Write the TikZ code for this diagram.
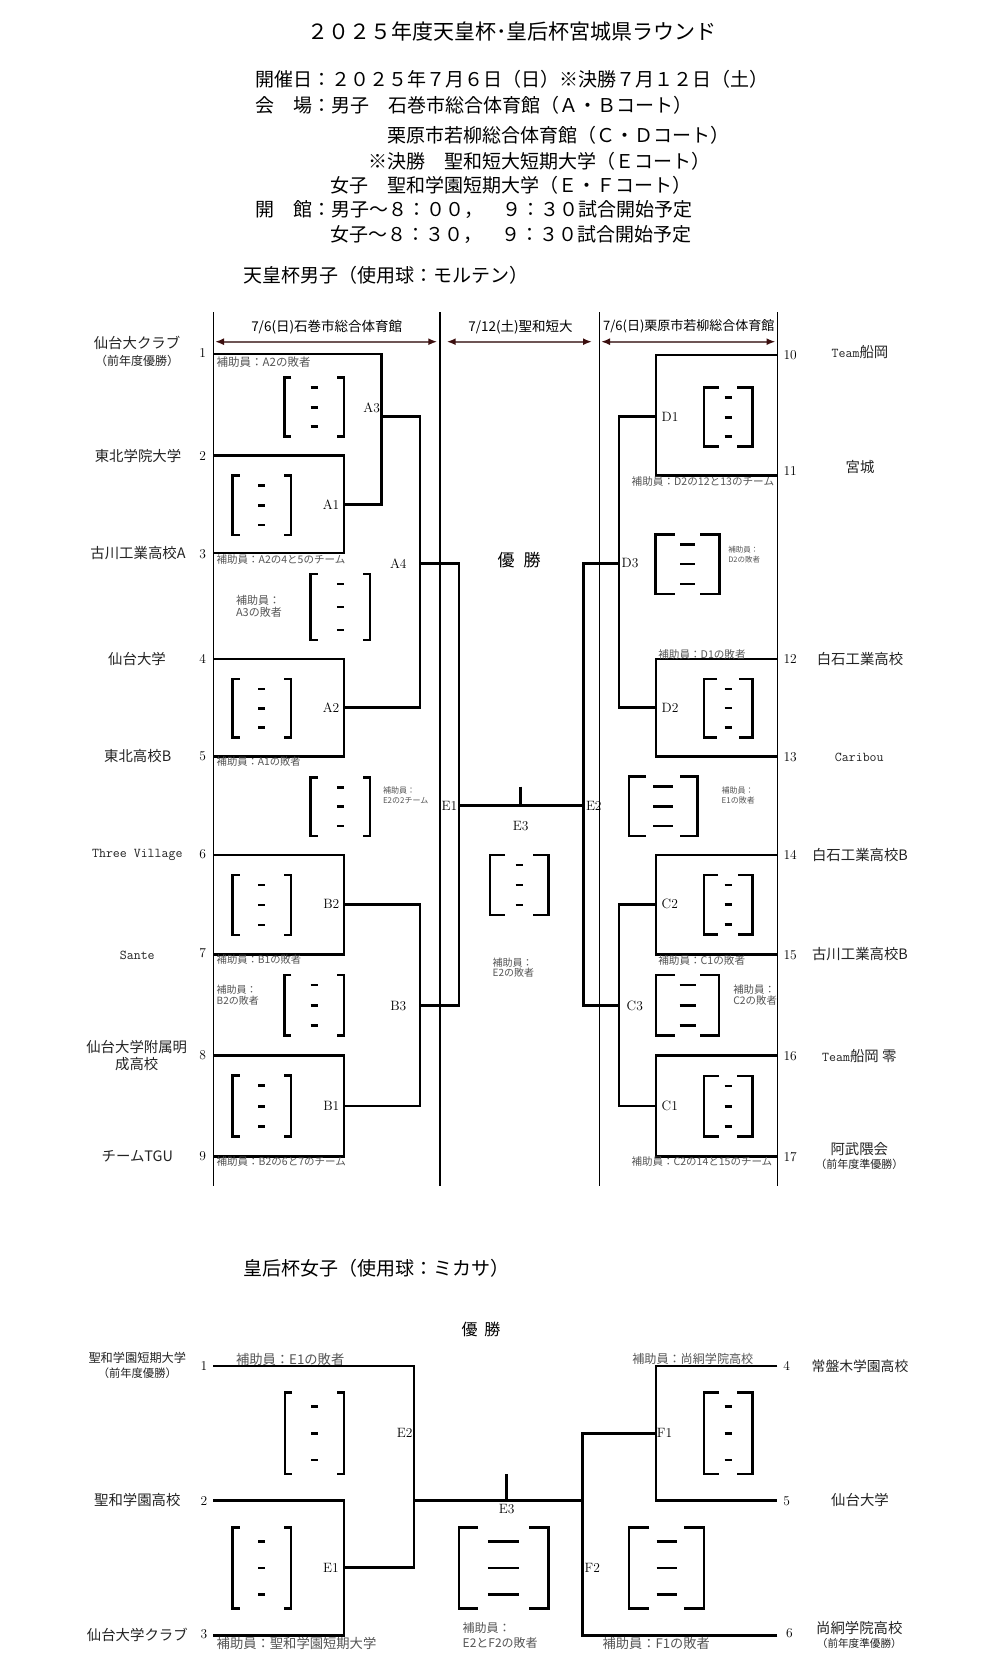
\documentclass[tikz,border=0pt]{standalone}
\usepackage{fontspec}
\newfontfamily\jp{Noto Sans CJK JP}
\usetikzlibrary{arrows.meta}
\definecolor{anncol}{RGB}{85,85,85}
\definecolor{teamcol}{RGB}{35,35,35}
\definecolor{arrS}{RGB}{110,85,85}
\definecolor{arrH}{RGB}{60,15,15}
\newcommand\fsz[2]{\fontsize{#1}{#2}\selectfont}
\tikzset{
  txt/.style={inner sep=0pt, outer sep=0pt},
  hdr/.style={txt, anchor=west, font=\jp\fsz{19}{22}},
  tnm/.style={txt, text=teamcol, font=\jp\fsz{14.4}{16}},
  tsub/.style={txt, text=teamcol, font=\jp\fsz{12}{14}},
  nlab/.style={txt, font=\fsz{13.5}{15}},
  mlab/.style={txt, font=\fsz{13.5}{15}},
  anno/.style={txt, anchor=west, text=anncol, align=left},
  bkl/.style={line width=2.6pt, line join=miter},
  thinl/.style={line width=1.1pt},
  dimarr/.style={line width=2pt, draw=arrS, {Latex[length=9pt,width=7pt,color=arrH]}-{Latex[length=9pt,width=7pt,color=arrH]}}
}
% left right top bottom arm dash-half-width dash-offset
\newcommand\scoreb[7]{%
  \draw[bkl] ({#1+#5},#3) -- (#1,#3) -- (#1,#4) -- ({#1+#5},#4);
  \draw[bkl] ({#2-#5},#3) -- (#2,#3) -- (#2,#4) -- ({#2-#5},#4);
  \foreach \yy in {{#3+#7},{(#3+#4)/2},{#4-#7}}
    \draw[bkl] ({(#1+#2)/2-#6},{\yy}) -- ({(#1+#2)/2+#6},{\yy});
}
\begin{document}
\begin{tikzpicture}[x=1pt,y=-1pt]
\fill[white] (0,0) rectangle (1004,1680);
\useasboundingbox (0,0) rectangle (1004,1680);

% ---------- header ----------
\node[txt, font=\jp\fsz{21}{24}] (title) at (512,31.5) {２０２５年度天皇杯･皇后杯宮城県ラウンド};
\node[hdr] (h1) at (255,79) {開催日：２０２５年７月６日（日）※決勝７月１２日（土）};
\node[hdr] (h2) at (255,105.5) {会　場：男子　石巻市総合体育館（Ａ・Ｂコート）};
\node[hdr] (h3) at (387.5,135) {栗原市若柳総合体育館（Ｃ・Ｄコート）};
\node[hdr] (h4) at (368,161.5) {※決勝　聖和短大短期大学（Ｅコート）};
\node[hdr] (h5) at (330,185.5) {女子　聖和学園短期大学（Ｅ・Ｆコート）};
\node[hdr] (h6) at (255,209.7) {開　館：男子～８：００，　９：３０試合開始予定};
\node[hdr] (h7) at (330,234.5) {女子～８：３０，　９：３０試合開始予定};
\node[hdr] (h8) at (243,275.3) {天皇杯男子（使用球：モルテン）};

% ---------- men: frame ----------
\foreach \xx/\nm in {213.3/va,440/vb,599.3/vc,777.3/vd}{
  \coordinate (\nm t) at (\xx,312);
  \coordinate (\nm b) at (\xx,1186);
  \draw[thinl] (\nm t) -- (\nm b);
}
\coordinate (ar1a) at (215,341.7); \coordinate (ar1b) at (437.3,341.7);
\coordinate (ar2a) at (446.7,341.7); \coordinate (ar2b) at (592,341.7);
\coordinate (ar3a) at (601,341.7); \coordinate (ar3b) at (775.5,341.7);
\draw[dimarr] (ar1a) -- (ar1b);
\draw[dimarr] (ar2a) -- (ar2b);
\draw[dimarr] (ar3a) -- (ar3b);
\node[txt, font=\jp\fsz{13.5}{15}] (hd1) at (326.7,326.7) {7/6(日)石巻市総合体育館};
\node[txt, font=\jp\fsz{13.5}{15}] (hd2) at (520.5,326.7) {7/12(土)聖和短大};
\node[txt, font=\jp\fsz{13}{15}] (hd3) at (688.8,326.7) {7/6(日)栗原市若柳総合体育館};

% ---------- men: bracket lines ----------
\draw[bkl] (213.3,354) -| (381.7,504.7) -- (344,504.7);
\draw[bkl] (213.3,455.7) -| (344,553) -- (213.3,553);
\draw[bkl] (381.7,416.7) -| (420,707.7) -- (344,707.7);
\draw[bkl] (213.3,659) -| (344,756.7) -- (213.3,756.7);
\draw[bkl] (420,563.3) -| (459,1005.7) -- (420,1005.7);
\draw[bkl] (213.3,855) -| (344,954.7) -- (213.3,954.7);
\draw[bkl] (344,904.3) -| (420,1106) -- (344,1106);
\draw[bkl] (213.3,1055.7) -| (344,1156.7) -- (213.3,1156.7);
\draw[bkl] (459,805.7) -- (583.3,805.7);
\draw[bkl] (520.7,786.7) -- (520.7,805.7);
\draw[bkl] (777.3,355) -| (656,475.7) -- (777.3,475.7);
\draw[bkl] (656,416.7) -| (619,707.7) -- (656,707.7);
\draw[bkl] (777.3,659) -| (656,756.7) -- (777.3,756.7);
\draw[bkl] (619,563.3) -| (583.3,1005.7) -- (619,1005.7);
\draw[bkl] (777.3,855) -| (656,954.7) -- (777.3,954.7);
\draw[bkl] (656,904.3) -| (619,1106) -- (656,1106);
\draw[bkl] (777.3,1055.7) -| (656,1156.7) -- (777.3,1156.7);

% ---------- men: score boxes ----------
\scoreb{284.3}{344}{377.7}{436.7}{7}{3.5}{10}
\scoreb{232.7}{291}{475.7}{535}{7}{3.5}{10}
\scoreb{310.7}{370}{574}{640}{7}{3.5}{10}
\scoreb{232.7}{291}{679}{737.7}{7}{3.5}{10}
\scoreb{310.7}{370}{777.3}{836}{7}{3.5}{10}
\scoreb{232.7}{291}{875}{935}{7}{3.5}{10}
\scoreb{284.3}{344}{975}{1035.7}{7}{3.5}{10}
\scoreb{232.7}{291}{1075.7}{1136.7}{7}{3.5}{10}
\scoreb{704}{752.3}{387.7}{446.7}{15}{3.5}{10}
\scoreb{655.7}{719.3}{534.3}{594}{19}{7.5}{10}
\scoreb{704}{752.3}{679}{737.3}{13}{3.5}{10}
\scoreb{629}{697.3}{776.7}{836}{17}{10}{10}
\scoreb{704}{752.3}{875}{934.3}{14}{3.5}{10}
\scoreb{656}{719}{975}{1035.7}{19}{8}{10}
\scoreb{704}{752.3}{1076}{1136.7}{15}{3.5}{10}
\scoreb{490}{548.3}{855}{915}{15}{3.5}{10}

% ---------- men: match labels ----------
\node[mlab, anchor=east] (lA3) at (380,408.3) {A3};
\node[mlab, anchor=east] (lA1) at (339.3,505) {A1};
\node[mlab, anchor=east] (lA2) at (339.3,707.7) {A2};
\node[mlab] (lA4) at (398.3,564) {A4};
\node[mlab, anchor=east] (lB2) at (339.3,904.3) {B2};
\node[mlab] (lB3) at (398.3,1005.7) {B3};
\node[mlab, anchor=east] (lB1) at (339.3,1106) {B1};
\node[mlab] (lE1) at (449.5,806) {E1};
\node[mlab, anchor=west] (lE2) at (586,806) {E2};
\node[mlab] (lE3) at (520.7,825.7) {E3};
\node[mlab, anchor=west] (lD1) at (661.7,416.7) {D1};
\node[mlab, anchor=west] (lD3) at (621.7,563.3) {D3};
\node[mlab, anchor=west] (lD2) at (661.7,707.7) {D2};
\node[mlab, anchor=west] (lC2) at (661.7,904.3) {C2};
\node[mlab, anchor=west] (lC3) at (626.7,1005.7) {C3};
\node[mlab, anchor=west] (lC1) at (661.7,1106) {C1};
\node[txt, font=\jp\fsz{17}{19}] (win1) at (519,560) {優\hspace{9pt}勝};

% ---------- men: teams left ----------
\node[tnm] (m1) at (137,343.3) {仙台大クラブ};
\node[tsub] (m1s) at (137,361) {（前年度優勝）};
\node[tnm] (m2) at (138,455.7) {東北学院大学};
\node[tnm] (m3) at (138,553) {古川工業高校A};
\node[tnm] (m4) at (137,659) {仙台大学};
\node[tnm] (m5) at (137.7,756) {東北高校B};
\node[tnm, font=\ttfamily\fsz{13.5}{15}] (m6) at (137.3,855) {Three Village};
\node[tnm, font=\ttfamily\fsz{13.5}{15}] (m7) at (137.3,955) {Sante};
\node[tnm] (m8) at (136.7,1046.7) {仙台大学附属明};
\node[tnm] (m8s) at (136.7,1064) {成高校};
\node[tnm] (m9) at (137.3,1156) {チームTGU};
\foreach \n/\yy in {1/353.3,2/456,3/554,4/659,5/756,6/854.3,7/953.3,8/1055,9/1156}
  \node[nlab] (n\n) at (202.7,\yy) {\n};

% ---------- men: teams right ----------
\foreach \n/\yy in {10/355,11/470.7,12/659,13/756.7,14/855,15/954.7,16/1055.7,17/1156.7}
  \node[nlab, anchor=west] (n\n) at (783.5,\yy) {\n};
\node[tnm] (m10) at (860,352.3) {{\ttfamily\fsz{13.5}{15}Team}船岡};
\node[tnm] (m11) at (860,466.7) {宮城};
\node[tnm] (m12) at (860,659) {白石工業高校};
\node[tnm, font=\ttfamily\fsz{13.5}{15}] (m13) at (859.3,757) {Caribou};
\node[tnm] (m14) at (860,855) {白石工業高校B};
\node[tnm] (m15) at (860,954) {古川工業高校B};
\node[tnm] (m16) at (859.3,1055.7) {{\ttfamily\fsz{13.5}{15}Team}船岡 零};
\node[tnm] (m17) at (859.3,1149.3) {阿武隈会};
\node[tsub, font=\jp\fsz{11}{13}] (m17s) at (859.3,1164) {（前年度準優勝）};

% ---------- men: annotations ----------
\node[anno, font=\jp\fsz{11.5}{13}] (a1) at (216.7,361.7) {補助員：A2の敗者};
\node[anno, font=\jp\fsz{10.5}{12}] (a2) at (216.7,559.3) {補助員：A2の4と5のチーム};
\node[anno, font=\jp\fsz{11}{11.7}] (a3) at (236,606) {補助員：\\A3の敗者};
\node[anno, font=\jp\fsz{10.3}{12}] (a4) at (216.7,761.7) {補助員：A1の敗者};
\node[anno, font=\jp\fsz{8}{10}] (a5) at (383,795.7) {補助員：\\E2の2チーム};
\node[anno, font=\jp\fsz{10.3}{12}] (a6) at (216.7,960) {補助員：B1の敗者};
\node[anno, font=\jp\fsz{10}{10.7}] (a7) at (216.7,995.3) {補助員：\\B2の敗者};
\node[anno, font=\jp\fsz{10.5}{12}] (a8) at (216.7,1161.7) {補助員：B2の6と7のチーム};
\node[anno, font=\jp\fsz{10.6}{12}] (a9) at (631.7,481.7) {補助員：D2の12と13のチーム};
\node[anno, font=\jp\fsz{7.5}{10.7}] (a10) at (728.3,554.7) {補助員：\\D2の敗者};
\node[anno, font=\jp\fsz{10.6}{12}] (a11) at (658.3,654) {補助員：D1の敗者};
\node[anno, font=\jp\fsz{8}{10}] (a12) at (721.7,795.7) {補助員：\\E1の敗者};
\node[anno, font=\jp\fsz{10.6}{12}] (a13) at (658.3,960) {補助員：C1の敗者};
\node[anno, font=\jp\fsz{10.4}{10.7}] (a14) at (733.3,995.3) {補助員：\\C2の敗者};
\node[anno, font=\jp\fsz{10.5}{12}] (a15) at (631.7,1161.7) {補助員：C2の14と15のチーム};
\node[anno, font=\jp\fsz{10}{10}] (a16) at (492.7,968) {補助員：\\E2の敗者};

% ---------- women ----------
\node[hdr] (wt) at (243,1268) {皇后杯女子（使用球：ミカサ）};
\node[txt, font=\jp\fsz{16}{18}] (win2) at (481,1329) {優\hspace{7pt}勝};

\draw[bkl] (213.3,1366) -| (414,1567.7) -- (344,1567.7);
\draw[bkl] (213.3,1500.7) -| (344,1635.7) -- (213.3,1635.7);
\draw[bkl] (414,1500.7) -- (582.7,1500.7);
\draw[bkl] (777.3,1635.7) -| (582.7,1433.3) -- (656,1433.3);
\draw[bkl] (777.3,1366) -| (656,1500.7) -- (777.3,1500.7);
\draw[bkl] (506.7,1474.3) -- (506.7,1500.7);

\scoreb{285}{344}{1392.7}{1474}{7}{3.5}{14}
\scoreb{232.7}{291}{1527.3}{1608.3}{7}{3.5}{14}
\scoreb{459}{548.3}{1527.3}{1608.3}{19}{15.7}{14}
\scoreb{704}{752.3}{1392.7}{1474}{15}{3.5}{14}
\scoreb{629}{704}{1527.3}{1608.3}{20}{10}{14}

\node[mlab] (wE2) at (404.7,1433.3) {E2};
\node[mlab] (wE1) at (331,1567.7) {E1};
\node[mlab] (wF1) at (664.5,1433.3) {F1};
\node[mlab] (wF2) at (592.3,1567.7) {F2};
\node[mlab] (wE3) at (506.7,1509.3) {E3};

\node[tnm, font=\jp\fsz{12.2}{14}] (w1) at (137.3,1358.3) {聖和学園短期大学};
\node[tsub, font=\jp\fsz{11.3}{13}] (w1s) at (137.3,1373.3) {（前年度優勝）};
\node[tnm] (w2) at (137.3,1500) {聖和学園高校};
\node[tnm] (w3) at (137.3,1635) {仙台大学クラブ};
\node[nlab] (wn1) at (204,1366) {1};
\node[nlab] (wn2) at (204,1500.7) {2};
\node[nlab] (wn3) at (204,1634) {3};
\node[nlab] (wn4) at (786.7,1366) {4};
\node[nlab] (wn5) at (786.7,1500.7) {5};
\node[nlab] (wn6) at (789.3,1633) {6};
\node[tnm, font=\jp\fsz{13.8}{16}] (w4) at (860,1366) {常盤木学園高校};
\node[tnm] (w5) at (860,1500) {仙台大学};
\node[tnm] (w6) at (859.3,1628.3) {尚絅学院高校};
\node[tsub, font=\jp\fsz{10.6}{12}] (w6s) at (859.3,1643.3) {（前年度準優勝）};

\node[anno, font=\jp\fsz{13.3}{15}] (wa1) at (236,1359.3) {補助員：E1の敗者};
\node[anno, font=\jp\fsz{13.3}{15}] (wa2) at (216.7,1643.3) {補助員：聖和学園短期大学};
\node[anno, font=\jp\fsz{12}{14.4}] (wa3) at (462.7,1635.5) {補助員：\\E2とF2の敗者};
\node[anno, font=\jp\fsz{12.1}{14}] (wa4) at (632.3,1359.3) {補助員：尚絅学院高校};
\node[anno, font=\jp\fsz{13.2}{15}] (wa5) at (602.7,1643.3) {補助員：F1の敗者};
\end{tikzpicture}
\end{document}
